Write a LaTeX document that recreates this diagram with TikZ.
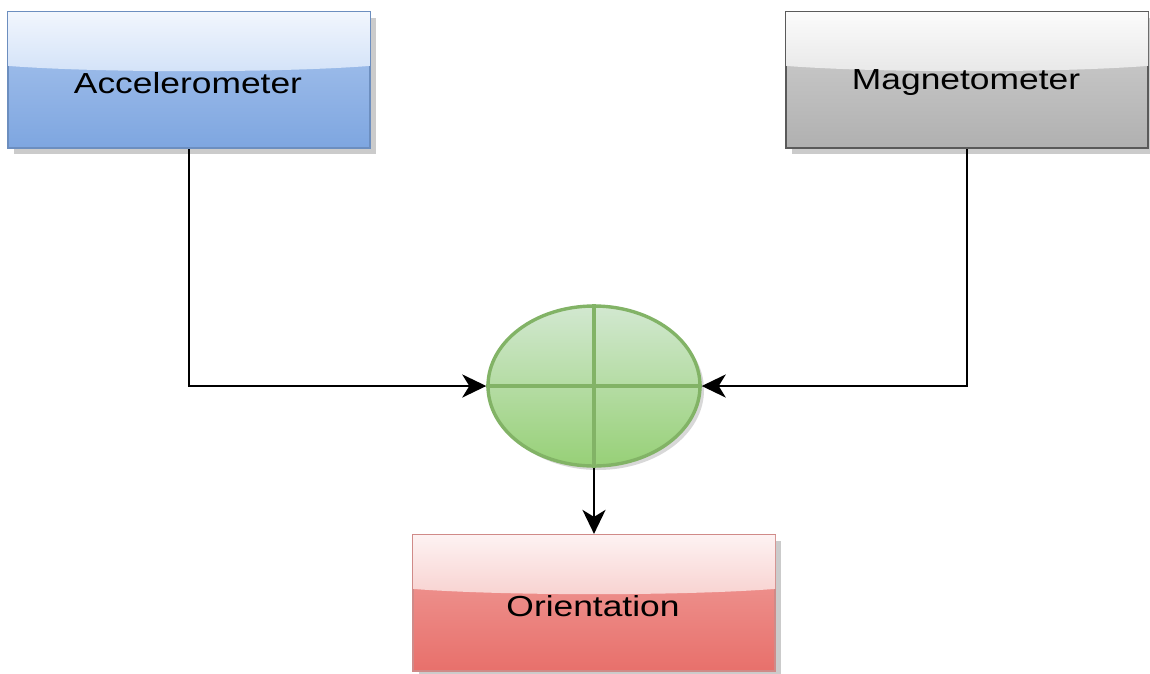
\documentclass[tikz,border=0pt]{standalone}
\usepackage{fontspec}
\setmainfont{Liberation Sans}
\usetikzlibrary{arrows.meta,shapes.geometric,calc,shadows}

\definecolor{blueA}{HTML}{F1F6FD}
\definecolor{blueB}{HTML}{D3E2F8}
\definecolor{blueC}{HTML}{ABC6EE}
\definecolor{blueD}{HTML}{7EA6E0}
\definecolor{blueE}{HTML}{6C8EBF}
\definecolor{grayA}{HTML}{FBFBFB}
\definecolor{grayB}{HTML}{E8E8E8}
\definecolor{grayC}{HTML}{D2D2D2}
\definecolor{grayD}{HTML}{B0B0B0}
\definecolor{grayE}{HTML}{5A5A5A}
\definecolor{redA}{HTML}{FDF2F2}
\definecolor{redB}{HTML}{F8D2D0}
\definecolor{redC}{HTML}{F0A19E}
\definecolor{redD}{HTML}{E8706B}
\definecolor{redE}{HTML}{D08A88}
\definecolor{greenA}{HTML}{D2E8D0}
\definecolor{greenB}{HTML}{97D077}
\definecolor{greenE}{HTML}{82B366}

\tikzset{
  unitbox/.style={rectangle, minimum width=362pt, minimum height=136pt,
    line width=2.2pt, inner sep=0pt,
    drop shadow={shadow xshift=6pt, shadow yshift=-6pt, fill=black!40, opacity=0.5}},
  label/.style={font=\fontsize{29}{32}\selectfont, inner sep=0pt},
  link/.style={line width=2.8pt, -{Stealth[length=24pt,width=23pt,inset=7pt]}},
}

% glossy upper band of a box: #1 node name, #2 top colour, #3 lower colour
\newcommand\glossband[3]{%
  \shade[top color=#2, bottom color=#3]
    ($(#1.north west)+(1.1,1.1)$) -- ($(#1.north east)+(-1.1,1.1)$)
    -- ($(#1.north east)+(-1.1,55)$)
    .. controls ($(#1.north)+(90,62)$) and ($(#1.north)+(-90,62)$) ..
    ($(#1.north west)+(1.1,55)$) -- cycle;}

\begin{document}
\begin{tikzpicture}[x=1pt,y=-1pt]
\useasboundingbox[fill=white] (0,0) rectangle (1150,673);

% sensor and result boxes
\node[unitbox, draw=blueE, top color=blueC, bottom color=blueD] (acc) at (189,80) {};
\glossband{acc}{blueA}{blueB}
\node[label] (acct) at (188,83) {\scalebox{1.22}[1]{Accelerometer}};

\node[unitbox, draw=grayE, top color=grayC, bottom color=grayD] (mag) at (967,80) {};
\glossband{mag}{grayA}{grayB}
\node[label] (magt) at (966,83) {\scalebox{1.22}[1]{Magnetometer}};

\node[unitbox, draw=redE, top color=redC, bottom color=redD] (ori) at (594,603) {};
\glossband{ori}{redA}{redB}
\node[label] (orit) at (593,606) {\scalebox{1.22}[1]{Orientation}};

% summing junction
\node[ellipse, minimum width=212pt, minimum height=160pt, inner sep=0pt,
      draw=greenE, line width=3.4pt, top color=greenA, bottom color=greenB,
      drop shadow={shadow xshift=4pt, shadow yshift=-4pt, fill=black!30, opacity=0.5}] (sum) at (594,386) {};
\draw[greenE, line width=3.4pt] (sum.north) -- (sum.south) (sum.west) -- (sum.east);

% connectors
\draw[link] (acc.south) |- (sum.west);
\draw[link] (mag.south) |- (sum.east);
\draw[link] (sum.south) -- (ori.north);
\end{tikzpicture}
\end{document}
